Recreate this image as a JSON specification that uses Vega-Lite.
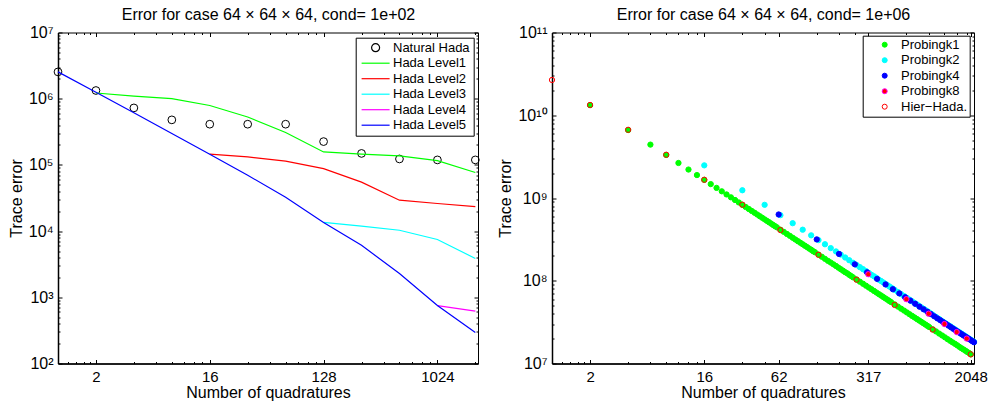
{
  "$schema": "https://vega.github.io/schema/vega-lite/v6.json",
  "background": "white",
  "padding": {"left": 7, "top": 5.5, "right": 0, "bottom": 0},
  "bounds": "flush",
  "spacing": 74,
  "resolve": {"scale": {"stroke": "independent", "fill": "independent", "shape": "independent", "x": "independent", "y": "independent"}, "legend": {"stroke": "independent", "fill": "independent", "shape": "independent"}},
  "config": {
    "font": "Liberation Sans",
    "view": {"stroke": "black", "strokeWidth": 1},
    "axis": {"grid": false, "domain": false, "labelColor": "black", "titleColor": "black", "tickColor": "black", "labelFont": "Liberation Sans", "titleFont": "Liberation Sans", "labelFontSize": 16, "titleFontSize": 16, "titleFontWeight": "normal", "labelFlush": false, "labelOverlap": false, "tickWidth": 1},
    "legend": {"strokeColor": "black", "fillColor": "white", "cornerRadius": 0, "labelFont": "Liberation Sans", "labelFontSize": 13, "labelColor": "black", "rowPadding": 1.5}
  },
  "datasets": {
    "left": [
      {"s": "Natural Hada", "x": 1, "y": 2540000},
      {"s": "Natural Hada", "x": 2, "y": 1330000},
      {"s": "Natural Hada", "x": 4, "y": 726000},
      {"s": "Natural Hada", "x": 8, "y": 479000},
      {"s": "Natural Hada", "x": 16, "y": 412000},
      {"s": "Natural Hada", "x": 32, "y": 412000},
      {"s": "Natural Hada", "x": 64, "y": 412000},
      {"s": "Natural Hada", "x": 128, "y": 225000},
      {"s": "Natural Hada", "x": 256, "y": 149000},
      {"s": "Natural Hada", "x": 512, "y": 123000},
      {"s": "Natural Hada", "x": 1024, "y": 119000},
      {"s": "Natural Hada", "x": 2048, "y": 119000},
      {"s": "Hada Level1", "x": 2, "y": 1220000},
      {"s": "Hada Level1", "x": 4, "y": 1090000},
      {"s": "Hada Level1", "x": 8, "y": 1000000},
      {"s": "Hada Level1", "x": 16, "y": 790000},
      {"s": "Hada Level1", "x": 32, "y": 530000},
      {"s": "Hada Level1", "x": 64, "y": 309000},
      {"s": "Hada Level1", "x": 128, "y": 157000},
      {"s": "Hada Level1", "x": 256, "y": 145000},
      {"s": "Hada Level1", "x": 512, "y": 137000},
      {"s": "Hada Level1", "x": 1024, "y": 116000},
      {"s": "Hada Level1", "x": 2048, "y": 76700},
      {"s": "Hada Level2", "x": 16, "y": 145000},
      {"s": "Hada Level2", "x": 32, "y": 132000},
      {"s": "Hada Level2", "x": 64, "y": 114000},
      {"s": "Hada Level2", "x": 128, "y": 88000},
      {"s": "Hada Level2", "x": 256, "y": 55000},
      {"s": "Hada Level2", "x": 512, "y": 29300},
      {"s": "Hada Level2", "x": 1024, "y": 26100},
      {"s": "Hada Level2", "x": 2048, "y": 23500},
      {"s": "Hada Level3", "x": 128, "y": 13500},
      {"s": "Hada Level3", "x": 256, "y": 11900},
      {"s": "Hada Level3", "x": 512, "y": 10300},
      {"s": "Hada Level3", "x": 1024, "y": 7460},
      {"s": "Hada Level3", "x": 2048, "y": 3860},
      {"s": "Hada Level4", "x": 1024, "y": 751},
      {"s": "Hada Level4", "x": 2048, "y": 617},
      {"s": "Hada Level5", "x": 1, "y": 2540000},
      {"s": "Hada Level5", "x": 2, "y": 1250000},
      {"s": "Hada Level5", "x": 4, "y": 612000},
      {"s": "Hada Level5", "x": 8, "y": 299000},
      {"s": "Hada Level5", "x": 16, "y": 145000},
      {"s": "Hada Level5", "x": 32, "y": 69700},
      {"s": "Hada Level5", "x": 64, "y": 32500},
      {"s": "Hada Level5", "x": 128, "y": 13500},
      {"s": "Hada Level5", "x": 256, "y": 6100},
      {"s": "Hada Level5", "x": 512, "y": 2290},
      {"s": "Hada Level5", "x": 1024, "y": 751},
      {"s": "Hada Level5", "x": 2048, "y": 295}
    ],
    "right": [
      {"s": "Probingk1", "x": 2, "y": 1.325e10},
      {"s": "Probingk1", "x": 4, "y": 6.625e9},
      {"s": "Probingk1", "x": 6, "y": 4.417e9},
      {"s": "Probingk1", "x": 8, "y": 3.313e9},
      {"s": "Probingk1", "x": 10, "y": 2.65e9},
      {"s": "Probingk1", "x": 12, "y": 2.208e9},
      {"s": "Probingk1", "x": 14, "y": 1.893e9},
      {"s": "Probingk1", "x": 16, "y": 1.656e9},
      {"s": "Probingk1", "x": 18, "y": 1.472e9},
      {"s": "Probingk1", "x": 20, "y": 1.325e9},
      {"s": "Probingk1", "x": 22, "y": 1.205e9},
      {"s": "Probingk1", "x": 24, "y": 1.104e9},
      {"s": "Probingk1", "x": 26, "y": 1.019e9},
      {"s": "Probingk1", "x": 28, "y": 9.46e8},
      {"s": "Probingk1", "x": 30, "y": 8.83e8},
      {"s": "Probingk1", "x": 32, "y": 8.28e8},
      {"s": "Probingk1", "x": 34, "y": 7.79e8},
      {"s": "Probingk1", "x": 36, "y": 7.36e8},
      {"s": "Probingk1", "x": 38, "y": 6.97e8},
      {"s": "Probingk1", "x": 40, "y": 6.63e8},
      {"s": "Probingk1", "x": 42, "y": 6.31e8},
      {"s": "Probingk1", "x": 44, "y": 6.02e8},
      {"s": "Probingk1", "x": 46, "y": 5.76e8},
      {"s": "Probingk1", "x": 48, "y": 5.52e8},
      {"s": "Probingk1", "x": 50, "y": 5.3e8},
      {"s": "Probingk1", "x": 52, "y": 5.1e8},
      {"s": "Probingk1", "x": 54, "y": 4.91e8},
      {"s": "Probingk1", "x": 56, "y": 4.73e8},
      {"s": "Probingk1", "x": 58, "y": 4.57e8},
      {"s": "Probingk1", "x": 60, "y": 4.42e8},
      {"s": "Probingk1", "x": 64, "y": 4.14e8},
      {"s": "Probingk1", "x": 68, "y": 3.9e8},
      {"s": "Probingk1", "x": 72, "y": 3.68e8},
      {"s": "Probingk1", "x": 76, "y": 3.49e8},
      {"s": "Probingk1", "x": 80, "y": 3.31e8},
      {"s": "Probingk1", "x": 84, "y": 3.15e8},
      {"s": "Probingk1", "x": 88, "y": 3.01e8},
      {"s": "Probingk1", "x": 92, "y": 2.88e8},
      {"s": "Probingk1", "x": 96, "y": 2.76e8},
      {"s": "Probingk1", "x": 100, "y": 2.65e8},
      {"s": "Probingk1", "x": 104, "y": 2.55e8},
      {"s": "Probingk1", "x": 108, "y": 2.45e8},
      {"s": "Probingk1", "x": 112, "y": 2.37e8},
      {"s": "Probingk1", "x": 116, "y": 2.28e8},
      {"s": "Probingk1", "x": 120, "y": 2.21e8},
      {"s": "Probingk1", "x": 128, "y": 2.07e8},
      {"s": "Probingk1", "x": 136, "y": 1.95e8},
      {"s": "Probingk1", "x": 144, "y": 1.84e8},
      {"s": "Probingk1", "x": 152, "y": 1.74e8},
      {"s": "Probingk1", "x": 160, "y": 1.66e8},
      {"s": "Probingk1", "x": 168, "y": 1.58e8},
      {"s": "Probingk1", "x": 176, "y": 1.51e8},
      {"s": "Probingk1", "x": 184, "y": 1.44e8},
      {"s": "Probingk1", "x": 192, "y": 1.38e8},
      {"s": "Probingk1", "x": 200, "y": 1.325e8},
      {"s": "Probingk1", "x": 208, "y": 1.27e8},
      {"s": "Probingk1", "x": 216, "y": 1.23e8},
      {"s": "Probingk1", "x": 224, "y": 1.18e8},
      {"s": "Probingk1", "x": 232, "y": 1.14e8},
      {"s": "Probingk1", "x": 240, "y": 1.1e8},
      {"s": "Probingk1", "x": 256, "y": 1.035e8},
      {"s": "Probingk1", "x": 272, "y": 9.74e7},
      {"s": "Probingk1", "x": 288, "y": 9.2e7},
      {"s": "Probingk1", "x": 304, "y": 8.72e7},
      {"s": "Probingk1", "x": 320, "y": 8.28e7},
      {"s": "Probingk1", "x": 336, "y": 7.89e7},
      {"s": "Probingk1", "x": 352, "y": 7.53e7},
      {"s": "Probingk1", "x": 368, "y": 7.2e7},
      {"s": "Probingk1", "x": 384, "y": 6.9e7},
      {"s": "Probingk1", "x": 400, "y": 6.63e7},
      {"s": "Probingk1", "x": 416, "y": 6.37e7},
      {"s": "Probingk1", "x": 432, "y": 6.13e7},
      {"s": "Probingk1", "x": 448, "y": 5.92e7},
      {"s": "Probingk1", "x": 464, "y": 5.71e7},
      {"s": "Probingk1", "x": 480, "y": 5.52e7},
      {"s": "Probingk1", "x": 512, "y": 5.18e7},
      {"s": "Probingk1", "x": 544, "y": 4.87e7},
      {"s": "Probingk1", "x": 576, "y": 4.6e7},
      {"s": "Probingk1", "x": 608, "y": 4.36e7},
      {"s": "Probingk1", "x": 640, "y": 4.14e7},
      {"s": "Probingk1", "x": 672, "y": 3.94e7},
      {"s": "Probingk1", "x": 704, "y": 3.76e7},
      {"s": "Probingk1", "x": 736, "y": 3.6e7},
      {"s": "Probingk1", "x": 768, "y": 3.45e7},
      {"s": "Probingk1", "x": 800, "y": 3.31e7},
      {"s": "Probingk1", "x": 832, "y": 3.19e7},
      {"s": "Probingk1", "x": 864, "y": 3.07e7},
      {"s": "Probingk1", "x": 896, "y": 2.96e7},
      {"s": "Probingk1", "x": 928, "y": 2.86e7},
      {"s": "Probingk1", "x": 960, "y": 2.76e7},
      {"s": "Probingk1", "x": 1024, "y": 2.59e7},
      {"s": "Probingk1", "x": 1088, "y": 2.44e7},
      {"s": "Probingk1", "x": 1152, "y": 2.3e7},
      {"s": "Probingk1", "x": 1216, "y": 2.18e7},
      {"s": "Probingk1", "x": 1280, "y": 2.07e7},
      {"s": "Probingk1", "x": 1344, "y": 1.97e7},
      {"s": "Probingk1", "x": 1408, "y": 1.88e7},
      {"s": "Probingk1", "x": 1472, "y": 1.8e7},
      {"s": "Probingk1", "x": 1536, "y": 1.73e7},
      {"s": "Probingk1", "x": 1600, "y": 1.66e7},
      {"s": "Probingk1", "x": 1664, "y": 1.59e7},
      {"s": "Probingk1", "x": 1728, "y": 1.53e7},
      {"s": "Probingk1", "x": 1792, "y": 1.48e7},
      {"s": "Probingk1", "x": 1856, "y": 1.43e7},
      {"s": "Probingk1", "x": 1920, "y": 1.38e7},
      {"s": "Probingk1", "x": 1984, "y": 1.34e7},
      {"s": "Probingk1", "x": 2048, "y": 1.29e7},
      {"s": "Probingk2", "x": 16, "y": 2.48e9},
      {"s": "Probingk2", "x": 32, "y": 1.24e9},
      {"s": "Probingk2", "x": 48, "y": 8.27e8},
      {"s": "Probingk2", "x": 64, "y": 6.2e8},
      {"s": "Probingk2", "x": 80, "y": 4.96e8},
      {"s": "Probingk2", "x": 96, "y": 4.14e8},
      {"s": "Probingk2", "x": 112, "y": 3.54e8},
      {"s": "Probingk2", "x": 128, "y": 3.1e8},
      {"s": "Probingk2", "x": 144, "y": 2.76e8},
      {"s": "Probingk2", "x": 160, "y": 2.48e8},
      {"s": "Probingk2", "x": 176, "y": 2.26e8},
      {"s": "Probingk2", "x": 192, "y": 2.07e8},
      {"s": "Probingk2", "x": 208, "y": 1.91e8},
      {"s": "Probingk2", "x": 224, "y": 1.77e8},
      {"s": "Probingk2", "x": 240, "y": 1.65e8},
      {"s": "Probingk2", "x": 256, "y": 1.55e8},
      {"s": "Probingk2", "x": 272, "y": 1.46e8},
      {"s": "Probingk2", "x": 288, "y": 1.38e8},
      {"s": "Probingk2", "x": 304, "y": 1.31e8},
      {"s": "Probingk2", "x": 320, "y": 1.24e8},
      {"s": "Probingk2", "x": 336, "y": 1.18e8},
      {"s": "Probingk2", "x": 352, "y": 1.13e8},
      {"s": "Probingk2", "x": 368, "y": 1.08e8},
      {"s": "Probingk2", "x": 384, "y": 1.03e8},
      {"s": "Probingk2", "x": 400, "y": 9.93e7},
      {"s": "Probingk2", "x": 416, "y": 9.54e7},
      {"s": "Probingk2", "x": 432, "y": 9.19e7},
      {"s": "Probingk2", "x": 448, "y": 8.86e7},
      {"s": "Probingk2", "x": 464, "y": 8.56e7},
      {"s": "Probingk2", "x": 480, "y": 8.27e7},
      {"s": "Probingk2", "x": 496, "y": 8.0e7},
      {"s": "Probingk2", "x": 512, "y": 7.75e7},
      {"s": "Probingk2", "x": 544, "y": 7.3e7},
      {"s": "Probingk2", "x": 576, "y": 6.89e7},
      {"s": "Probingk2", "x": 608, "y": 6.53e7},
      {"s": "Probingk2", "x": 640, "y": 6.2e7},
      {"s": "Probingk2", "x": 672, "y": 5.91e7},
      {"s": "Probingk2", "x": 704, "y": 5.64e7},
      {"s": "Probingk2", "x": 736, "y": 5.39e7},
      {"s": "Probingk2", "x": 768, "y": 5.17e7},
      {"s": "Probingk2", "x": 800, "y": 4.96e7},
      {"s": "Probingk2", "x": 832, "y": 4.77e7},
      {"s": "Probingk2", "x": 864, "y": 4.59e7},
      {"s": "Probingk2", "x": 896, "y": 4.43e7},
      {"s": "Probingk2", "x": 928, "y": 4.28e7},
      {"s": "Probingk2", "x": 960, "y": 4.14e7},
      {"s": "Probingk2", "x": 992, "y": 4.0e7},
      {"s": "Probingk2", "x": 1024, "y": 3.88e7},
      {"s": "Probingk2", "x": 1088, "y": 3.65e7},
      {"s": "Probingk2", "x": 1152, "y": 3.45e7},
      {"s": "Probingk2", "x": 1216, "y": 3.26e7},
      {"s": "Probingk2", "x": 1280, "y": 3.1e7},
      {"s": "Probingk2", "x": 1344, "y": 2.95e7},
      {"s": "Probingk2", "x": 1408, "y": 2.82e7},
      {"s": "Probingk2", "x": 1472, "y": 2.7e7},
      {"s": "Probingk2", "x": 1536, "y": 2.58e7},
      {"s": "Probingk2", "x": 1600, "y": 2.48e7},
      {"s": "Probingk2", "x": 1664, "y": 2.39e7},
      {"s": "Probingk2", "x": 1728, "y": 2.3e7},
      {"s": "Probingk2", "x": 1792, "y": 2.22e7},
      {"s": "Probingk2", "x": 1856, "y": 2.14e7},
      {"s": "Probingk2", "x": 1920, "y": 2.07e7},
      {"s": "Probingk2", "x": 1984, "y": 2.0e7},
      {"s": "Probingk2", "x": 2048, "y": 1.94e7},
      {"s": "Probingk2", "x": 2112, "y": 1.88e7},
      {"s": "Probingk2", "x": 2176, "y": 1.82e7},
      {"s": "Probingk4", "x": 62, "y": 6.32e8},
      {"s": "Probingk4", "x": 124, "y": 3.16e8},
      {"s": "Probingk4", "x": 186, "y": 2.11e8},
      {"s": "Probingk4", "x": 248, "y": 1.58e8},
      {"s": "Probingk4", "x": 310, "y": 1.265e8},
      {"s": "Probingk4", "x": 372, "y": 1.054e8},
      {"s": "Probingk4", "x": 434, "y": 9.03e7},
      {"s": "Probingk4", "x": 496, "y": 7.9e7},
      {"s": "Probingk4", "x": 558, "y": 7.03e7},
      {"s": "Probingk4", "x": 620, "y": 6.32e7},
      {"s": "Probingk4", "x": 682, "y": 5.75e7},
      {"s": "Probingk4", "x": 744, "y": 5.27e7},
      {"s": "Probingk4", "x": 806, "y": 4.86e7},
      {"s": "Probingk4", "x": 868, "y": 4.52e7},
      {"s": "Probingk4", "x": 930, "y": 4.22e7},
      {"s": "Probingk4", "x": 992, "y": 3.95e7},
      {"s": "Probingk4", "x": 1054, "y": 3.72e7},
      {"s": "Probingk4", "x": 1116, "y": 3.51e7},
      {"s": "Probingk4", "x": 1178, "y": 3.33e7},
      {"s": "Probingk4", "x": 1240, "y": 3.16e7},
      {"s": "Probingk4", "x": 1302, "y": 3.01e7},
      {"s": "Probingk4", "x": 1364, "y": 2.87e7},
      {"s": "Probingk4", "x": 1426, "y": 2.75e7},
      {"s": "Probingk4", "x": 1488, "y": 2.63e7},
      {"s": "Probingk4", "x": 1550, "y": 2.53e7},
      {"s": "Probingk4", "x": 1612, "y": 2.43e7},
      {"s": "Probingk4", "x": 1674, "y": 2.34e7},
      {"s": "Probingk4", "x": 1736, "y": 2.26e7},
      {"s": "Probingk4", "x": 1798, "y": 2.18e7},
      {"s": "Probingk4", "x": 1860, "y": 2.11e7},
      {"s": "Probingk4", "x": 1922, "y": 2.04e7},
      {"s": "Probingk4", "x": 1984, "y": 1.98e7},
      {"s": "Probingk4", "x": 2046, "y": 1.92e7},
      {"s": "Probingk4", "x": 2108, "y": 1.86e7},
      {"s": "Probingk4", "x": 2170, "y": 1.81e7},
      {"s": "Probingk8", "x": 317, "y": 1.2e8},
      {"s": "Probingk8", "x": 634, "y": 5.99e7},
      {"s": "Probingk8", "x": 951, "y": 4.0e7},
      {"s": "Probingk8", "x": 1268, "y": 3.0e7},
      {"s": "Probingk8", "x": 1585, "y": 2.4e7},
      {"s": "Probingk8", "x": 1902, "y": 2.0e7},
      {"s": "Hier−Hada.", "x": 1, "y": 2.67e10},
      {"s": "Hier−Hada.", "x": 2, "y": 1.33e10},
      {"s": "Hier−Hada.", "x": 4, "y": 6.67e9},
      {"s": "Hier−Hada.", "x": 8, "y": 3.33e9},
      {"s": "Hier−Hada.", "x": 16, "y": 1.66e9},
      {"s": "Hier−Hada.", "x": 32, "y": 8.3e8},
      {"s": "Hier−Hada.", "x": 64, "y": 4.1e8},
      {"s": "Hier−Hada.", "x": 128, "y": 2.06e8},
      {"s": "Hier−Hada.", "x": 256, "y": 1.03e8},
      {"s": "Hier−Hada.", "x": 512, "y": 5.1e7},
      {"s": "Hier−Hada.", "x": 1024, "y": 2.57e7},
      {"s": "Hier−Hada.", "x": 2048, "y": 1.29e7}
    ]
  },
  "hconcat": [
    {
      "width": 420,
      "height": 331,
      "data": {"name": "left"},
      "resolve": {"axis": {"x": "independent", "y": "independent"}},
      "layer": [
        {
          "transform": [{"filter": "datum.s === 'Natural Hada'"}],
          "mark": {"type": "point", "filled": false, "size": 60, "strokeWidth": 1, "opacity": 1},
          "encoding": {
            "x": {"field": "x", "type": "quantitative", "scale": {"type": "log", "domain": [1, 2150], "nice": false},
              "axis": {"orient": "bottom", "values": [2, 16, 128, 1024], "format": "d", "title": "Number of quadratures", "labelFontSize": 15, "tickSize": -4, "labelPadding": 9.5, "titlePadding": 0, "domain": true, "domainColor": "black", "domainWidth": 1.5}},
            "y": {"field": "y", "type": "quantitative", "scale": {"type": "log", "domain": [100, 10000000], "nice": false},
              "axis": {"orient": "left", "values": [100, 1000, 10000, 100000, 1000000, 10000000], "labelExpr": "datum.value >= 9e6 ? '10⁷' : datum.value >= 9e5 ? '10⁶' : datum.value >= 9e4 ? '10⁵' : datum.value >= 9e3 ? '10⁴' : datum.value >= 900 ? '10³' : '10²'", "title": "Trace error", "tickSize": -4, "labelPadding": 9, "titlePadding": 4, "domain": true, "domainColor": "black", "domainWidth": 1.5}},
            "stroke": {"field": "s", "type": "nominal",
              "scale": {"domain": ["Natural Hada", "Hada Level1", "Hada Level2", "Hada Level3", "Hada Level4", "Hada Level5"], "range": ["#000000", "#00ff00", "#ff0000", "#00ffff", "#ff00ff", "#0000ff"]},
              "legend": {"title": null, "orient": "none", "legendX": 297.7, "legendY": 5.2, "padding": 3.5, "symbolSize": 64, "symbolStrokeWidth": 1.2, "symbolOffset": 9.9, "labelOffset": 10.9}},
            "shape": {"field": "s", "type": "nominal",
              "scale": {"domain": ["Natural Hada", "Hada Level1", "Hada Level2", "Hada Level3", "Hada Level4", "Hada Level5"], "range": ["circle", "M-3.5,0L3.5,0", "M-3.5,0L3.5,0", "M-3.5,0L3.5,0", "M-3.5,0L3.5,0", "M-3.5,0L3.5,0"]},
              "legend": {"title": null, "orient": "none", "legendX": 297.7, "legendY": 5.2, "padding": 3.5, "symbolSize": 64, "symbolStrokeWidth": 1.2, "symbolOffset": 9.9, "labelOffset": 10.9}}
          }
        },
        {
          "transform": [{"filter": "datum.s !== 'Natural Hada'"}],
          "mark": {"type": "line", "strokeWidth": 1.2},
          "encoding": {
            "x": {"field": "x", "type": "quantitative",
              "axis": {"orient": "bottom", "values": [1.2, 1.4, 1.6, 1.8, 4, 6, 8, 10, 12, 14, 32, 48, 64, 80, 96, 112, 256, 384, 512, 640, 768, 896, 2048], "labels": false, "title": null, "tickSize": -2, "domain": false}},
            "y": {"field": "y", "type": "quantitative",
              "axis": {"orient": "left", "values": [200, 300, 400, 500, 600, 700, 800, 900, 2000, 3000, 4000, 5000, 6000, 7000, 8000, 9000, 20000, 30000, 40000, 50000, 60000, 70000, 80000, 90000, 200000, 300000, 400000, 500000, 600000, 700000, 800000, 900000, 2000000, 3000000, 4000000, 5000000, 6000000, 7000000, 8000000, 9000000], "labels": false, "title": null, "tickSize": -2, "domain": false}},
            "stroke": {"field": "s", "type": "nominal", "legend": null}
          }
        },
        {
          "mark": {"type": "point", "opacity": 0},
          "encoding": {
            "x": {"field": "x", "type": "quantitative",
              "axis": {"orient": "top", "values": [2, 16, 128, 1024], "labels": false, "title": "Error for case 64 × 64 × 64, cond= 1e+02", "titleFontSize": 16, "titlePadding": 10, "tickSize": -4, "domain": false}},
            "y": {"field": "y", "type": "quantitative",
              "axis": {"orient": "right", "values": [100, 1000, 10000, 100000, 1000000, 10000000], "labels": false, "title": null, "tickSize": -4, "domain": false}}
          }
        },
        {
          "mark": {"type": "point", "opacity": 0},
          "encoding": {
            "x": {"field": "x", "type": "quantitative",
              "axis": {"orient": "top", "values": [1.2, 1.4, 1.6, 1.8, 4, 6, 8, 10, 12, 14, 32, 48, 64, 80, 96, 112, 256, 384, 512, 640, 768, 896, 2048], "labels": false, "title": null, "tickSize": -2, "domain": false}},
            "y": {"field": "y", "type": "quantitative",
              "axis": {"orient": "right", "values": [200, 300, 400, 500, 600, 700, 800, 900, 2000, 3000, 4000, 5000, 6000, 7000, 8000, 9000, 20000, 30000, 40000, 50000, 60000, 70000, 80000, 90000, 200000, 300000, 400000, 500000, 600000, 700000, 800000, 900000, 2000000, 3000000, 4000000, 5000000, 6000000, 7000000, 8000000, 9000000], "labels": false, "title": null, "tickSize": -2, "domain": false}}
          }
        }
      ]
    },
    {
      "width": 422,
      "height": 331,
      "data": {"name": "right"},
      "resolve": {"axis": {"x": "independent", "y": "independent"}},
      "layer": [
        {
          "mark": {"type": "point", "shape": "circle", "filled": true, "size": 28, "strokeWidth": 1, "opacity": 1},
          "encoding": {
            "x": {"field": "x", "type": "quantitative", "scale": {"type": "log", "domain": [1, 2172], "nice": false},
              "axis": {"orient": "bottom", "values": [2, 16, 62, 317, 2048], "format": "d", "title": "Number of quadratures", "labelFontSize": 15, "tickSize": -4, "labelPadding": 9.5, "titlePadding": 0, "domain": true, "domainColor": "black", "domainWidth": 1.5}},
            "y": {"field": "y", "type": "quantitative", "scale": {"type": "log", "domain": [10000000, 100000000000], "nice": false},
              "axis": {"orient": "left", "values": [10000000, 100000000, 1000000000, 10000000000, 100000000000], "labelExpr": "datum.value >= 9e10 ? '10¹¹' : datum.value >= 9e9 ? '10¹⁰' : datum.value >= 9e8 ? '10⁹' : datum.value >= 9e7 ? '10⁸' : '10⁷'", "title": "Trace error", "tickSize": -4, "labelPadding": 9, "titlePadding": 4, "domain": true, "domainColor": "black", "domainWidth": 1.5}},
            "fill": {"field": "s", "type": "nominal",
              "scale": {"domain": ["Probingk1", "Probingk2", "Probingk4", "Probingk8", "Hier−Hada."], "range": ["#00ff00", "#00ffff", "#0000ff", "#ff0000", "transparent"]},
              "legend": {"title": null, "orient": "none", "legendX": 310.7, "legendY": 3.2, "padding": 2.5, "symbolSize": 25, "symbolStrokeWidth": 1, "symbolOffset": 13, "labelOffset": 9.8}},
            "stroke": {"field": "s", "type": "nominal",
              "scale": {"domain": ["Probingk1", "Probingk2", "Probingk4", "Probingk8", "Hier−Hada."], "range": ["#00ff00", "#00ffff", "#0000ff", "#ff00ff", "#ff0000"]},
              "legend": {"title": null, "orient": "none", "legendX": 310.7, "legendY": 3.2, "padding": 2.5, "symbolSize": 25, "symbolStrokeWidth": 1, "symbolOffset": 13, "labelOffset": 9.8}}
          }
        },
        {
          "mark": {"type": "point", "opacity": 0},
          "encoding": {
            "x": {"field": "x", "type": "quantitative",
              "axis": {"orient": "bottom", "values": [1.2, 1.4, 1.6, 1.8, 4, 6, 8, 10, 12, 14, 32, 48, 124, 186, 248, 634, 951, 1268, 1585, 1902], "labels": false, "title": null, "tickSize": -2, "domain": false}},
            "y": {"field": "y", "type": "quantitative",
              "axis": {"orient": "left", "values": [20000000, 30000000, 40000000, 50000000, 60000000, 70000000, 80000000, 90000000, 200000000, 300000000, 400000000, 500000000, 600000000, 700000000, 800000000, 900000000, 2000000000, 3000000000, 4000000000, 5000000000, 6000000000, 7000000000, 8000000000, 9000000000, 20000000000, 30000000000, 40000000000, 50000000000, 60000000000, 70000000000, 80000000000, 90000000000], "labels": false, "title": null, "tickSize": -2, "domain": false}}
          }
        },
        {
          "mark": {"type": "point", "opacity": 0},
          "encoding": {
            "x": {"field": "x", "type": "quantitative",
              "axis": {"orient": "top", "values": [2, 16, 62, 317, 2048], "labels": false, "title": "Error for case 64  × 64 × 64, cond= 1e+06", "titleFontSize": 16, "titlePadding": 10, "tickSize": -4, "domain": false}},
            "y": {"field": "y", "type": "quantitative",
              "axis": {"orient": "right", "values": [10000000, 100000000, 1000000000, 10000000000, 100000000000], "labels": false, "title": null, "tickSize": -4, "domain": false}}
          }
        },
        {
          "mark": {"type": "point", "opacity": 0},
          "encoding": {
            "x": {"field": "x", "type": "quantitative",
              "axis": {"orient": "top", "values": [1.2, 1.4, 1.6, 1.8, 4, 6, 8, 10, 12, 14, 32, 48, 124, 186, 248, 634, 951, 1268, 1585, 1902], "labels": false, "title": null, "tickSize": -2, "domain": false}},
            "y": {"field": "y", "type": "quantitative",
              "axis": {"orient": "right", "values": [20000000, 30000000, 40000000, 50000000, 60000000, 70000000, 80000000, 90000000, 200000000, 300000000, 400000000, 500000000, 600000000, 700000000, 800000000, 900000000, 2000000000, 3000000000, 4000000000, 5000000000, 6000000000, 7000000000, 8000000000, 9000000000, 20000000000, 30000000000, 40000000000, 50000000000, 60000000000, 70000000000, 80000000000, 90000000000], "labels": false, "title": null, "tickSize": -2, "domain": false}}
          }
        }
      ]
    }
  ]
}
